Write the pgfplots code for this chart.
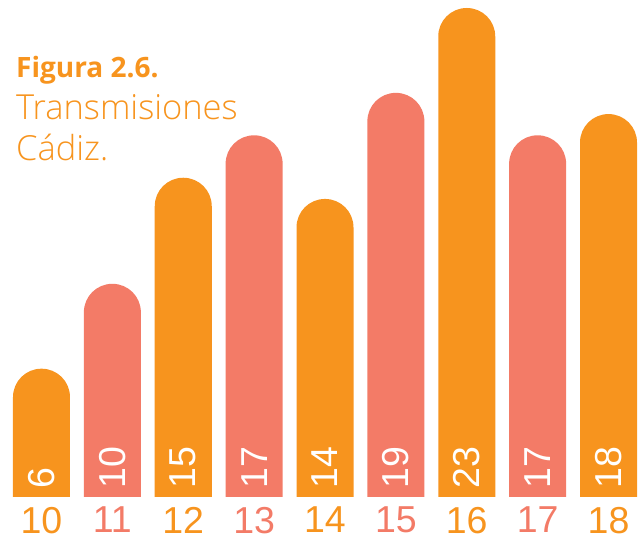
\documentclass[border=0pt]{standalone}
\usepackage{pgfplots}
\pgfplotsset{compat=1.18}
\usepackage{pgfplotstable}
\usepackage{fontspec}
\setmainfont{Liberation Sans}
\newfontfamily\opensans{Open Sans}
\newfontfamily\opensanslight{Open Sans Light}
\definecolor{org}{HTML}{F7941E}
\definecolor{sal}{HTML}{F37B67}

\pgfplotstableread{
x v
0 6
2 15
4 14
6 23
8 18
}\orangetab
\pgfplotstableread{
x v
1 10
3 17
5 19
7 17
}\salmontab
\pgfplotstableread{
x v
0 6
1 10
2 15
3 17
4 14
5 19
6 23
7 17
8 18
}\alltab

\begin{document}
\begin{tikzpicture}
\begin{axis}[
  at={(0,-31.83bp)}, anchor=south west,
  scale only axis, width=641bp, height=527.83bp,
  xmin=-0.5855, xmax=8.4586, ymin=0, ymax=24.877,
  axis line style={draw=none},
  tick style={draw=none},
  ytick=\empty,
  xtick={0,1,2,3,4,5,6,7,8},
  xticklabels={\textcolor{org}{10},\textcolor{sal}{11},\textcolor{org}{12},\textcolor{sal}{13},\textcolor{org}{14},\textcolor{sal}{15},\textcolor{org}{16},\textcolor{sal}{17},\textcolor{org}{18}},
  xticklabel style={font=\fontsize{37.5bp}{40bp}\selectfont, inner sep=0pt, anchor=north, yshift=20.83bp},
  clip=true,
]
% bars start 1.5 units below the visible floor; the clip hides their rounded bottom corners
\clip (axis cs:-0.5855,1.5) rectangle (axis cs:8.4586,24.877);
\addplot[ybar, bar width=57bp, bar shift=0pt, fill=org, draw=none, rounded corners=28.4bp] table[x=x,y expr=\thisrow{v}+1.5]{\orangetab};
\addplot[ybar, bar width=57bp, bar shift=0pt, fill=sal, draw=none, rounded corners=28.4bp] table[x=x,y expr=\thisrow{v}+1.5]{\salmontab};
\addplot[only marks, mark=none, point meta=explicit symbolic,
  nodes near coords={\pgfplotspointmeta},
  nodes near coords style={rotate=90, anchor=west, text=white, font=\fontsize{37.5bp}{40bp}\selectfont, inner xsep=7bp, inner ysep=0pt}]
  table[x=x, y expr=1.5, meta=v]{\alltab};
\end{axis}
\node[anchor=base west, inner sep=0pt, text=org, font=\opensans\bfseries\fontsize{28bp}{30bp}\selectfont] at (16bp,418bp) {Figura 2.6.};
\node[anchor=base west, inner sep=0pt, text=org, font=\opensanslight\fontsize{34.5bp}{36bp}\selectfont] at (16bp,376bp) {Transmisiones};
\node[anchor=base west, inner sep=0pt, text=org, font=\opensanslight\fontsize{34.5bp}{36bp}\selectfont] at (16bp,335bp) {Cádiz.};
\pgfresetboundingbox
\path (0,-44bp) rectangle (641bp,496bp);
\end{tikzpicture}
\end{document}
